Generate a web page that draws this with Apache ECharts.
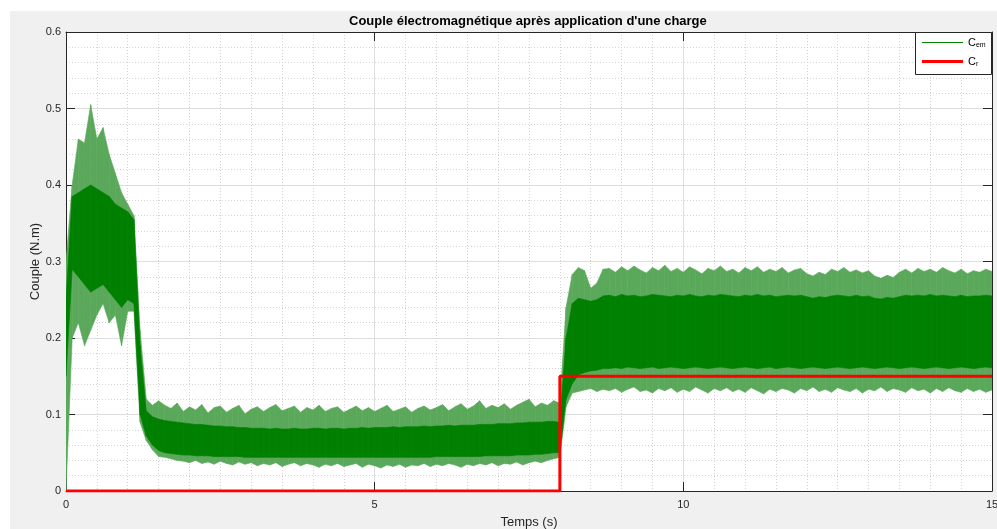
<!DOCTYPE html>
<html>
<head>
<meta charset="utf-8">
<script src="https://cdn.jsdelivr.net/npm/echarts@6/dist/echarts.min.js"></script>
<style>
html, body { margin: 0; padding: 0; background: #fff; }
#chart { width: 997px; height: 529px; }
</style>
</head>
<body>
<div id="chart"></div>
<script>
// Electromagnetic torque C_em: envelope of the ripple, one sample every 0.1 s (0 .. 15 s)
const sampleStep = 0.1;

// upper tips of the ripple spikes
const cemPeakHigh = [
  0.30, 0.40, 0.46, 0.455, 0.505, 0.46, 0.475, 0.44, 0.415, 0.39,
  0.375, 0.36, 0.21, 0.12, 0.112, 0.118,
  0.112, 0.108, 0.115, 0.104, 0.110, 0.106, 0.113, 0.102, 0.109, 0.111,
  0.103, 0.108, 0.112, 0.101, 0.107, 0.110, 0.104, 0.109, 0.113, 0.105,
  0.108, 0.111, 0.103, 0.109, 0.106, 0.112, 0.104, 0.108, 0.110, 0.103,
  0.107, 0.111, 0.105, 0.109, 0.104, 0.108, 0.112, 0.104, 0.107, 0.110,
  0.103, 0.108, 0.111, 0.106, 0.109, 0.113, 0.105, 0.110, 0.114, 0.107,
  0.111, 0.118, 0.108, 0.112, 0.109, 0.114, 0.107, 0.112, 0.116, 0.120,
  0.110, 0.115, 0.112, 0.118,
  0.115, 0.24, 0.283, 0.292, 0.288, 0.265, 0.272, 0.29,
  0.291, 0.286, 0.293, 0.288, 0.294, 0.289, 0.285, 0.292, 0.288, 0.295,
  0.287, 0.291, 0.286, 0.293, 0.289, 0.284, 0.291, 0.288, 0.294, 0.287,
  0.290, 0.285, 0.292, 0.288, 0.293, 0.286, 0.290, 0.287, 0.292, 0.285,
  0.289, 0.291, 0.284, 0.281, 0.286, 0.283, 0.290, 0.287, 0.292, 0.286,
  0.289, 0.285, 0.288, 0.281, 0.278, 0.282, 0.279, 0.286, 0.290, 0.285,
  0.291, 0.287, 0.290, 0.286, 0.292, 0.288, 0.285, 0.290, 0.284, 0.288,
  0.286, 0.290, 0.287
];

// top of the dense part of the ripple
const cemDenseHigh = [
  0.25, 0.385, 0.39, 0.395, 0.40, 0.395, 0.39, 0.385, 0.375, 0.37,
  0.365, 0.355, 0.19, 0.105, 0.097, 0.094,
  0.092, 0.091, 0.090, 0.089, 0.088, 0.087, 0.087, 0.086, 0.085, 0.085,
  0.084, 0.084, 0.083, 0.083, 0.082, 0.082, 0.082, 0.081, 0.082, 0.081,
  0.081, 0.082, 0.081, 0.081, 0.082, 0.082, 0.081, 0.082, 0.082, 0.081,
  0.082, 0.082, 0.083, 0.082, 0.083, 0.083, 0.083, 0.084, 0.083, 0.084,
  0.084, 0.084, 0.085, 0.084, 0.085, 0.085, 0.086, 0.085, 0.086, 0.086,
  0.086, 0.087, 0.087, 0.087, 0.088, 0.088, 0.088, 0.089, 0.089, 0.090,
  0.090, 0.090, 0.091, 0.091,
  0.090, 0.20, 0.245, 0.252, 0.25, 0.248, 0.25, 0.255,
  0.256, 0.254, 0.257, 0.255, 0.256, 0.254, 0.255, 0.257, 0.256, 0.255,
  0.254, 0.256, 0.255, 0.257, 0.255, 0.254, 0.256, 0.255, 0.257, 0.256,
  0.255, 0.254, 0.256, 0.255, 0.257, 0.255, 0.256, 0.254, 0.255, 0.256,
  0.255, 0.256, 0.254, 0.252, 0.254, 0.253, 0.255, 0.256, 0.255, 0.254,
  0.256, 0.254, 0.255, 0.252, 0.251, 0.253, 0.252, 0.254, 0.256, 0.255,
  0.256, 0.255, 0.257, 0.255, 0.256, 0.255, 0.254, 0.256, 0.254, 0.255,
  0.255, 0.256, 0.255
];

// bottom of the dense part of the ripple
const cemDenseLow = [
  0.15, 0.29, 0.28, 0.27, 0.26, 0.265, 0.27, 0.26, 0.25, 0.24,
  0.25, 0.245, 0.10, 0.072, 0.060, 0.053,
  0.050, 0.049, 0.048, 0.047, 0.047, 0.046, 0.046, 0.046, 0.045, 0.045,
  0.045, 0.045, 0.045, 0.044, 0.044, 0.044, 0.044, 0.044, 0.044, 0.044,
  0.044, 0.044, 0.044, 0.044, 0.044, 0.044, 0.044, 0.044, 0.044, 0.044,
  0.044, 0.044, 0.044, 0.044, 0.044, 0.044, 0.044, 0.044, 0.044, 0.044,
  0.044, 0.044, 0.044, 0.044, 0.045, 0.045, 0.045, 0.045, 0.045, 0.045,
  0.045, 0.045, 0.046, 0.046, 0.046, 0.046, 0.046, 0.047, 0.047, 0.047,
  0.048, 0.048, 0.049, 0.050,
  0.050, 0.12, 0.14, 0.152, 0.155, 0.157, 0.158, 0.16,
  0.160, 0.161, 0.160, 0.162, 0.161, 0.160, 0.161, 0.162, 0.160, 0.161,
  0.162, 0.161, 0.160, 0.161, 0.162, 0.161, 0.160, 0.161, 0.162, 0.161,
  0.160, 0.161, 0.162, 0.161, 0.160, 0.161, 0.162, 0.160, 0.161, 0.162,
  0.161, 0.160, 0.161, 0.162, 0.161, 0.160, 0.161, 0.162, 0.161, 0.160,
  0.161, 0.162, 0.161, 0.160, 0.161, 0.162, 0.161, 0.160, 0.161, 0.162,
  0.161, 0.160, 0.161, 0.162, 0.161, 0.160, 0.161, 0.162, 0.161, 0.160,
  0.161, 0.162, 0.161
];

// lower tips of the ripple spikes
const cemPeakLow = [
  0.0, 0.20, 0.22, 0.19, 0.21, 0.23, 0.245, 0.22, 0.23, 0.19,
  0.235, 0.235, 0.09, 0.066, 0.054, 0.045,
  0.044, 0.042, 0.040, 0.039, 0.037, 0.040, 0.036, 0.038, 0.035, 0.039,
  0.036, 0.034, 0.038, 0.035, 0.037, 0.033, 0.036, 0.034, 0.037, 0.032,
  0.035, 0.037, 0.033, 0.036, 0.034, 0.031, 0.035, 0.033, 0.036, 0.032,
  0.034, 0.036, 0.031, 0.035, 0.033, 0.030, 0.034, 0.032, 0.035, 0.031,
  0.034, 0.033, 0.036, 0.032, 0.035, 0.033, 0.036, 0.034, 0.031, 0.035,
  0.033, 0.036, 0.034, 0.037, 0.033, 0.036, 0.035, 0.038, 0.034, 0.037,
  0.039, 0.037, 0.040, 0.042,
  0.044, 0.11, 0.128, 0.13, 0.132, 0.134, 0.13, 0.133,
  0.131, 0.134, 0.129, 0.133, 0.136, 0.130, 0.132, 0.128, 0.134, 0.131,
  0.135, 0.129, 0.133, 0.130, 0.136, 0.132, 0.128, 0.134, 0.131, 0.135,
  0.130, 0.133, 0.129, 0.135, 0.131, 0.127, 0.133, 0.130, 0.134, 0.132,
  0.128, 0.134, 0.131, 0.136, 0.130, 0.133, 0.129, 0.135, 0.132, 0.130,
  0.134, 0.128, 0.133, 0.131, 0.136, 0.130, 0.134, 0.132, 0.129, 0.135,
  0.131, 0.133, 0.128, 0.134, 0.130, 0.135, 0.131, 0.129, 0.134, 0.130,
  0.133, 0.129, 0.132
];

// Load torque C_r: step applied at t = 8 s
const loadTime = [0, 8, 8, 15];
const loadTorque = [0, 0, 0.15, 0.15];

// Axis ranges and tick spacing
const timeTicks = [0, 5, 10, 15];
const torqueTicks = [0, 0.1, 0.2, 0.3, 0.4, 0.5, 0.6];

const FONT = '"Liberation Sans", Arial, Helvetica, sans-serif';
const AXIS_GRAY = '#262626';
const GREEN = '#008000';
const GREEN_SPIKES = '#5aa85a';
const RED = '#ff0000';

const times = cemPeakHigh.map((_, i) => +(i * sampleStep).toFixed(1));

// one quad per sampling interval: [t0, low0, high0, t1, low1, high1]
function bandSegments(low, high) {
  const out = [];
  for (let i = 0; i < times.length - 1; i++) {
    out.push([times[i], low[i], high[i], times[i + 1], low[i + 1], high[i + 1]]);
  }
  return out;
}

function bandSeries(name, low, high, fill, z) {
  return {
    name: name,
    type: 'custom',
    coordinateSystem: 'cartesian2d',
    clip: true,
    silent: true,
    z: z,
    itemStyle: { color: fill, borderColor: fill, borderWidth: 0 },
    encode: { x: [0, 3], y: [1, 2, 4, 5] },
    data: bandSegments(low, high),
    renderItem: function (params, api) {
      const a = api.coord([api.value(0), api.value(1)]);
      const b = api.coord([api.value(0), api.value(2)]);
      const c = api.coord([api.value(3), api.value(5)]);
      const d = api.coord([api.value(3), api.value(4)]);
      return {
        type: 'polygon',
        shape: { points: [a, b, c, d] },
        style: { fill: fill, stroke: fill, lineWidth: 0.6 }
      };
    }
  };
}

const xBase = {
  type: 'value',
  min: timeTicks[0],
  max: timeTicks[timeTicks.length - 1],
  interval: timeTicks[1] - timeTicks[0],
  axisLine: { show: true, onZero: false, lineStyle: { color: AXIS_GRAY, width: 1 } },
  axisTick: { show: true, inside: true, length: 9, lineStyle: { color: AXIS_GRAY } },
  minorTick: { show: false, splitNumber: 10 }
};
const yBase = {
  type: 'value',
  min: torqueTicks[0],
  max: torqueTicks[torqueTicks.length - 1],
  interval: torqueTicks[1] - torqueTicks[0],
  axisLine: { show: true, onZero: false, lineStyle: { color: AXIS_GRAY, width: 1 } },
  axisTick: { show: true, inside: true, length: 9, lineStyle: { color: AXIS_GRAY } },
  minorTick: { show: false, splitNumber: 5 }
};

const legendText = {
  fontFamily: FONT,
  rich: {
    c: { fontFamily: FONT, fontSize: 11, color: '#000', lineHeight: 14 },
    s: { fontFamily: FONT, fontSize: 7, color: '#000', lineHeight: 14, padding: [6, 0, 0, 0] }
  }
};
function legendEntry(name, top, thickness, color, sub) {
  return {
    data: [name],
    selectedMode: false,
    left: 922,
    top: top,
    padding: 0,
    z: 10,
    icon: 'rect',
    itemWidth: 41,
    itemHeight: thickness,
    itemStyle: { color: color, borderWidth: 0 },
    lineStyle: { color: color, width: thickness, opacity: 1 },
    formatter: () => '{c|C}{s|' + sub + '}',
    textStyle: legendText
  };
}

const chart = echarts.init(document.getElementById('chart'), null, { renderer: 'canvas' });

chart.setOption({
  animation: false,
  backgroundColor: '#ffffff',
  textStyle: { fontFamily: FONT },
  graphic: [
    {
      type: 'rect',
      z: -100,
      silent: true,
      shape: { x: 10, y: 11, width: 987, height: 518 },
      style: { fill: '#f0f0f0' }
    },
    {
      // legend frame
      type: 'rect',
      z: 8,
      silent: true,
      shape: { x: 915.5, y: 32.5, width: 76, height: 42 },
      style: { fill: '#ffffff', stroke: AXIS_GRAY, lineWidth: 1 }
    }
  ],
  title: {
    text: "Couple électromagnétique après application d'une charge",
    left: 349,
    top: 15,
    padding: 0,
    textStyle: { fontFamily: FONT, fontSize: 13, fontWeight: 'bold', color: '#000' }
  },
  legend: [
    legendEntry('Cem', 36, 1, GREEN, 'em'),
    legendEntry('Cr', 55, 3, RED, 'r')
  ],
  grid: {
    show: true,
    left: 66,
    right: 5,
    top: 32,
    bottom: 38,
    outerBoundsMode: 'none',
    containLabel: false,
    backgroundColor: '#ffffff',
    borderWidth: 0
  },
  xAxis: [
    Object.assign({}, xBase, {
      position: 'bottom',
      name: 'Temps (s)',
      nameLocation: 'middle',
      nameGap: 25,
      nameMoveOverlap: false,
      nameTextStyle: { fontFamily: FONT, fontSize: 13, color: AXIS_GRAY },
      axisLabel: { show: true, fontFamily: FONT, fontSize: 11, color: AXIS_GRAY, margin: 8 },
      splitLine: { show: true, lineStyle: { color: '#dedede', width: 1 } },
      minorSplitLine: { show: true, lineStyle: { color: '#d4d4d4', width: 1, type: [1, 2] } }
    }),
    Object.assign({}, xBase, {
      position: 'top',
      axisLabel: { show: false },
      splitLine: { show: false }
    })
  ],
  yAxis: [
    Object.assign({}, yBase, {
      position: 'left',
      name: 'Couple (N.m)',
      nameLocation: 'middle',
      nameGap: 24,
      nameRotate: 90,
      nameMoveOverlap: false,
      nameTextStyle: { fontFamily: FONT, fontSize: 13, color: AXIS_GRAY },
      axisLabel: { show: true, fontFamily: FONT, fontSize: 11, color: AXIS_GRAY, margin: 5 },
      splitLine: { show: true, lineStyle: { color: '#dedede', width: 1 } },
      minorSplitLine: { show: true, lineStyle: { color: '#d4d4d4', width: 1, type: [1, 2] } }
    }),
    Object.assign({}, yBase, {
      position: 'right',
      axisLabel: { show: false },
      splitLine: { show: false }
    })
  ],
  series: [
    bandSeries('cemSpikes', cemPeakLow, cemPeakHigh, GREEN_SPIKES, 2),
    bandSeries('Cem', cemDenseLow, cemDenseHigh, GREEN, 3),
    {
      name: 'Cr',
      type: 'line',
      data: loadTime.map((t, i) => [t, loadTorque[i]]),
      symbol: 'none',
      showSymbol: false,
      silent: true,
      color: RED,
      lineStyle: { width: 3, color: RED },
      z: 5
    }
  ]
});
</script>
</body>
</html>
